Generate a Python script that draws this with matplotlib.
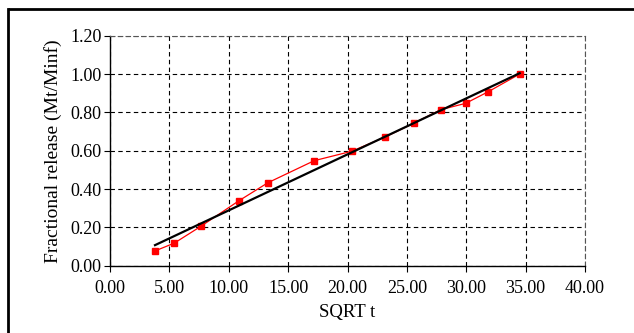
import numpy as np
import matplotlib
matplotlib.use("Agg")
import matplotlib.pyplot as plt
from matplotlib.lines import Line2D

sqrt_t = [3.79, 5.42, 7.69, 10.86, 13.30, 17.20, 20.35, 23.16, 25.60, 27.85, 29.95, 31.86, 34.50]
frac_release = [0.077, 0.118, 0.207, 0.339, 0.433, 0.548, 0.597, 0.671, 0.744, 0.814, 0.847, 0.908, 1.000]
x_ticks = [0, 5, 10, 15, 20, 25, 30, 35, 40]
y_ticks = [0.0, 0.2, 0.4, 0.6, 0.8, 1.0, 1.2]

plt.rcParams['font.family'] = ['Liberation Serif', 'DejaVu Serif']

W, H = 634, 333
fig = plt.figure(figsize=(W / 100, H / 100), dpi=100, facecolor='white')
ax = fig.add_axes([110 / W, 1 - 265.7 / H, 475 / W, 230 / H])

# outer border (only top and left are visible in the crop)
fig.lines.append(Line2D([8 / W, 8 / W], [0, 1 - 9 / H], transform=fig.transFigure,
                        color='black', linewidth=2.0, solid_capstyle='projecting'))
fig.lines.append(Line2D([8 / W, 1.05], [1 - 9 / H, 1 - 9 / H], transform=fig.transFigure,
                        color='black', linewidth=2.0, solid_capstyle='butt'))

ax.plot(sqrt_t, frac_release, color='#ff0000', linewidth=0.9, marker='s',
        markersize=4.6, markerfacecolor='#ff0000', markeredgecolor='#ff0000', zorder=3)

coef = np.polyfit(sqrt_t, frac_release, 1)
xs = np.array([sqrt_t[0], sqrt_t[-1]])
ax.plot(xs, np.polyval(coef, xs), color='black', linewidth=1.6, zorder=4)

ax.set_xlim(0, 40)
ax.set_ylim(0, 1.2)
ax.set_xticks(x_ticks)
ax.set_yticks(y_ticks)
ax.set_xticklabels([f"{v:.2f}" for v in x_ticks])
ax.set_yticklabels([f"{v:.2f}" for v in y_ticks])
ax.tick_params(axis='both', labelsize=13, length=4, width=0.8, color='black')
ax.tick_params(axis='x', pad=6)
ax.tick_params(axis='y', pad=2)

ax.grid(True, color='black', linestyle=(0, (4, 3)), linewidth=0.8)
ax.set_axisbelow(True)
for s in ['top', 'right']:
    ax.spines[s].set_color('#555555')
    ax.spines[s].set_linestyle((0, (4, 3)))
    ax.spines[s].set_linewidth(0.8)
for s in ['left', 'bottom']:
    ax.spines[s].set_linewidth(1.0)

ax.set_xlabel('SQRT t', fontsize=13.5, labelpad=5)
ax.set_ylabel('Fractional release (Mt/Minf)', fontsize=14, labelpad=6)

fig.savefig('out.png', dpi=100, facecolor='white')
